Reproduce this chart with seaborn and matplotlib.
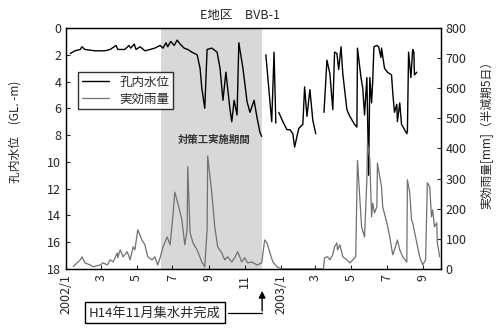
import pandas as pd
import matplotlib.pyplot as plt
import seaborn as sns

# 孔内水位 (GL. -m), days counted from 2002-01-01, seg = unbroken pieces of the line
wl_day = [7, 15, 24, 27, 32, 49, 66, 75, 85, 88, 100, 107, 110, 116, 119, 126,
          134, 143, 151, 160, 165, 170, 173, 178, 184, 189, 194, 201, 207, 214, 223, 228,
          231, 236, 240, 248, 257, 262, 267, 272, 279, 282, 286, 291, 294, 301, 308, 313,
          320, 325, 330, 333,
          340, 345, 350, 354, 357,
          362, 369, 376, 381, 386, 389, 393, 396, 403, 406, 410, 415, 420, 425,
          439, 444, 449, 454, 457, 461, 464, 468, 471, 478, 483, 491, 495, 496, 502, 505,
          508, 512, 515, 517, 520, 522, 524, 529, 532, 536, 537, 542, 547, 554, 556, 559,
          563, 564, 568, 571, 575, 580, 581, 583, 587, 590, 592, 593, 597]
wl_depth = [1.9, 1.7, 1.6, 1.4, 1.6, 1.7, 1.7, 1.6, 1.3, 1.6, 1.6, 1.3, 1.5, 1.2, 1.6, 1.4,
            1.7, 1.6, 1.5, 1.3, 1.5, 1.1, 1.4, 1.0, 1.3, 0.9, 1.2, 1.5, 1.6, 1.8, 2.0, 3.0,
            4.5, 6.0, 1.6, 1.5, 1.8, 3.0, 5.4, 3.3, 6.1, 7.0, 5.4, 6.5, 1.1, 3.0, 5.5, 6.3,
            5.4, 6.7, 7.8, 8.1,
            2.0, 4.5, 7.0, 1.8, 7.1,
            6.3, 7.0, 7.6, 7.6, 7.9, 8.9, 8.1, 7.5, 7.2, 4.4, 6.6, 4.6, 6.9, 7.9,
            6.3, 2.4, 3.4, 6.1, 1.8, 1.9, 3.1, 1.4, 3.4, 6.1, 6.6, 7.2, 7.4, 1.5, 3.7, 4.5,
            6.5, 3.7, 11.0, 3.7, 5.6, 3.9, 1.4, 1.3, 1.4, 2.2, 1.5, 3.0, 3.3, 3.5, 4.8, 6.3,
            5.7, 7.0, 5.6, 7.2, 7.5, 7.9, 7.7, 1.8, 3.7, 1.6, 1.8, 3.5, 3.3]
wl_seg = [1] * 52 + [2] * 5 + [3] * 14 + [4] * 45

# 実効雨量 [mm] (半減期5日)
rain_day = [12, 15, 24, 27, 32, 41, 46, 58, 63, 70,
            75, 80, 87, 88, 92, 97, 104, 109, 114, 117,
            122, 129, 134, 139, 146, 151, 156, 160, 165, 172,
            177, 182, 185, 190, 197, 202, 206, 207, 211, 216,
            223, 231, 236, 240, 241, 245, 248, 253, 258, 265,
            270, 275, 282, 287, 292, 299, 304, 309, 316, 325,
            333, 338, 342, 347, 352, 359, 366, 400, 438,
            440, 445, 449, 454, 457, 461, 462, 466, 469, 471,
            478, 483, 488, 493, 496, 503, 508, 512, 513, 517,
            520, 522, 525, 529, 530, 534, 537, 539, 546, 551,
            556, 559, 564, 568, 573, 580, 581, 585, 588, 590,
            597, 602, 607, 612, 615, 619, 622, 624, 627, 631,
            632, 636]
rain_mm = [8, 13, 30, 40, 20, 13, 7, 13, 20, 13,
           30, 23, 53, 37, 63, 40, 57, 30, 73, 63,
           130, 96, 80, 40, 30, 40, 13, 37, 73, 106,
           80, 180, 255, 219, 163, 80, 130, 340, 120, 86,
           63, 23, 7, 130, 375, 305, 252, 140, 73, 53,
           30, 40, 23, 37, 57, 23, 37, 20, 23, 13,
           20, 96, 86, 53, 23, 7, 0, 0, 0,
           37, 40, 30, 47, 73, 86, 63, 80, 57, 40,
           30, 20, 30, 40, 360, 140, 106, 296, 420, 362,
           173, 219, 186, 206, 352, 305, 272, 206, 153, 106,
           47, 63, 96, 63, 40, 23, 296, 252, 163, 153,
           86, 40, 13, 30, 286, 272, 173, 196, 140, 153,
           86, 40]

tick_months = ['2002-01-01', '2002-03-01', '2002-05-01', '2002-07-01', '2002-09-01',
               '2002-11-01', '2003-01-01', '2003-03-01', '2003-05-01', '2003-07-01',
               '2003-09-01']
tick_labels = ['2002/1', '3', '5', '7', '9', '11', '2003/1', '3', '5', '7', '9']

start = pd.Timestamp('2002-01-01')
wl = pd.DataFrame({'date': start + pd.to_timedelta(wl_day, unit='D'),
                   'depth': wl_depth, 'seg': wl_seg})
rain = pd.DataFrame({'date': start + pd.to_timedelta(rain_day, unit='D'), 'mm': rain_mm})

sns.set_style('ticks')
plt.rcParams['font.family'] = ['Noto Sans CJK JP', 'DejaVu Sans']
plt.rcParams['font.size'] = 9

fig = plt.figure(figsize=(5.01, 3.34), dpi=100)
ax = fig.add_axes([0.132, 0.195, 0.748, 0.721])
ax2 = ax.twinx()

# 対策工実施期間
ax.axvspan(pd.Timestamp('2002-06-12'), pd.Timestamp('2002-11-30'), color='#d8d8d8', lw=0, zorder=0)
ax.text(pd.Timestamp('2002-09-10'), 8.4, '対策工実施期間', ha='center', va='center',
        fontsize=7.5, color='#333333', fontweight='bold')

sns.lineplot(data=wl, x='date', y='depth', units='seg', estimator=None, color='black',
             lw=1.0, ax=ax, legend=False)
sns.lineplot(data=rain, x='date', y='mm', color='#707070', lw=0.9, ax=ax2, legend=False)

ax.set_xlim(pd.Timestamp('2002-01-01'), pd.Timestamp('2003-10-01'))
ax.set_ylim(18, 0)
ax.set_yticks(range(0, 19, 2))
ax2.set_ylim(0, 800)
ax2.set_yticks(range(0, 801, 100))

ax.set_xticks(pd.to_datetime(tick_months))
ax.set_xticklabels(tick_labels, rotation=90)
ax.set_xlabel('')
ax.set_ylabel('孔内水位　(GL. -m)', fontsize=8.5)
ax2.set_ylabel('実効雨量[mm]（半減期5日）', fontsize=8.5)
ax.yaxis.set_label_coords(-0.12, 0.57)
ax2.yaxis.set_label_coords(1.105, 0.57)

for a in (ax, ax2):
    a.tick_params(direction='in', length=3, labelsize=9, width=0.8)
    for s in a.spines.values():
        s.set_linewidth(0.9)
        s.set_color('black')
    a.grid(False)

handles = [plt.Line2D([], [], color='black', lw=1.0),
           plt.Line2D([], [], color='#707070', lw=0.9)]
leg = ax2.legend(handles, ['孔内水位', '実効雨量'], loc='upper left',
                 bbox_to_anchor=(0.032, 0.817), frameon=True, fancybox=False,
                 edgecolor='black', fontsize=9, handlelength=2.2,
                 borderpad=0.3, labelspacing=0.3, borderaxespad=0)
leg.get_frame().set_linewidth(1.0)

fig.text(0.479, 0.955, 'E地区　BVB-1', ha='center', va='center', fontsize=9)

# H14年11月集水井完成 callout below the axis
ax.text(0.237, -0.183, 'H14年11月集水井完成', transform=ax.transAxes, ha='center',
        va='center', fontsize=9.5,
        bbox=dict(boxstyle='square,pad=0.3', fc='white', ec='black', lw=1.0))
ax.plot([0.432, 0.523], [-0.183, -0.183], transform=ax.transAxes, color='black',
        lw=0.9, clip_on=False)
ax.annotate('', xy=(0.523, -0.08), xytext=(0.523, -0.186), xycoords='axes fraction',
            arrowprops=dict(arrowstyle='-|>', color='black', lw=1.0, mutation_scale=10))

fig.savefig('out.png', dpi=100)
